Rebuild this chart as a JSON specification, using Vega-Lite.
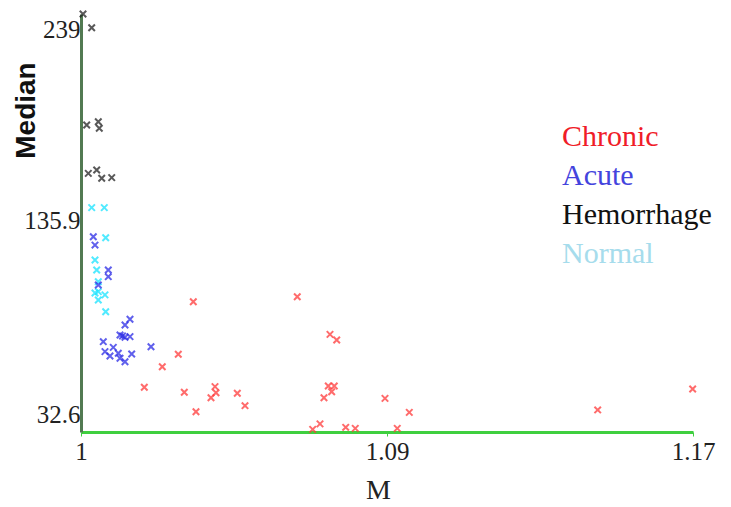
{
  "$schema": "https://vega.github.io/schema/vega-lite/v6.json",
  "width": 612,
  "height": 418,
  "autosize": {"type": "none"},
  "padding": {"left": 81, "top": 14, "right": 38, "bottom": 75},
  "background": "white",
  "config": {"view": {"stroke": null}},
  "data": {"values": [
    {"M": 1.00057, "Median": 239.0, "Group": "Hemorrhage"},
    {"M": 1.00304, "Median": 232.2, "Group": "Hemorrhage"},
    {"M": 1.00162, "Median": 184.2, "Group": "Hemorrhage"},
    {"M": 1.00492, "Median": 185.8, "Group": "Hemorrhage"},
    {"M": 1.0052, "Median": 182.6, "Group": "Hemorrhage"},
    {"M": 1.00208, "Median": 160.3, "Group": "Hemorrhage"},
    {"M": 1.00446, "Median": 162.0, "Group": "Hemorrhage"},
    {"M": 1.00589, "Median": 157.9, "Group": "Hemorrhage"},
    {"M": 1.00873, "Median": 158.2, "Group": "Hemorrhage"},
    {"M": 1.00304, "Median": 143.4, "Group": "Normal"},
    {"M": 1.00662, "Median": 143.4, "Group": "Normal"},
    {"M": 1.00702, "Median": 128.5, "Group": "Normal"},
    {"M": 1.00398, "Median": 117.5, "Group": "Normal"},
    {"M": 1.00446, "Median": 112.6, "Group": "Normal"},
    {"M": 1.00492, "Median": 106.8, "Group": "Normal"},
    {"M": 1.00492, "Median": 101.9, "Group": "Normal"},
    {"M": 1.00398, "Median": 101.2, "Group": "Normal"},
    {"M": 1.00682, "Median": 100.3, "Group": "Normal"},
    {"M": 1.00492, "Median": 97.8, "Group": "Normal"},
    {"M": 1.00702, "Median": 92.0, "Group": "Normal"},
    {"M": 1.0035, "Median": 129.0, "Group": "Acute"},
    {"M": 1.00398, "Median": 124.9, "Group": "Acute"},
    {"M": 1.00776, "Median": 112.6, "Group": "Acute"},
    {"M": 1.00776, "Median": 109.3, "Group": "Acute"},
    {"M": 1.00492, "Median": 105.2, "Group": "Acute"},
    {"M": 1.01393, "Median": 88.3, "Group": "Acute"},
    {"M": 1.01251, "Median": 85.4, "Group": "Acute"},
    {"M": 1.01109, "Median": 80.5, "Group": "Acute"},
    {"M": 1.01251, "Median": 79.4, "Group": "Acute"},
    {"M": 1.01393, "Median": 79.7, "Group": "Acute"},
    {"M": 1.0118, "Median": 80.0, "Group": "Acute"},
    {"M": 1.00634, "Median": 77.2, "Group": "Acute"},
    {"M": 1.00918, "Median": 74.4, "Group": "Acute"},
    {"M": 1.00682, "Median": 72.3, "Group": "Acute"},
    {"M": 1.00824, "Median": 70.1, "Group": "Acute"},
    {"M": 1.0106, "Median": 71.5, "Group": "Acute"},
    {"M": 1.01109, "Median": 69.0, "Group": "Acute"},
    {"M": 1.01441, "Median": 71.1, "Group": "Acute"},
    {"M": 1.01251, "Median": 67.3, "Group": "Acute"},
    {"M": 1.0199, "Median": 74.7, "Group": "Acute"},
    {"M": 1.03193, "Median": 96.9, "Group": "Chronic"},
    {"M": 1.02766, "Median": 71.0, "Group": "Chronic"},
    {"M": 1.02311, "Median": 64.8, "Group": "Chronic"},
    {"M": 1.018, "Median": 54.7, "Group": "Chronic"},
    {"M": 1.02937, "Median": 52.2, "Group": "Chronic"},
    {"M": 1.0381, "Median": 55.0, "Group": "Chronic"},
    {"M": 1.03838, "Median": 52.0, "Group": "Chronic"},
    {"M": 1.03696, "Median": 49.5, "Group": "Chronic"},
    {"M": 1.04444, "Median": 51.7, "Group": "Chronic"},
    {"M": 1.04663, "Median": 45.6, "Group": "Chronic"},
    {"M": 1.03269, "Median": 42.6, "Group": "Chronic"},
    {"M": 1.06149, "Median": 99.4, "Group": "Chronic"},
    {"M": 1.07079, "Median": 80.8, "Group": "Chronic"},
    {"M": 1.0727, "Median": 78.0, "Group": "Chronic"},
    {"M": 1.07031, "Median": 55.3, "Group": "Chronic"},
    {"M": 1.07201, "Median": 55.3, "Group": "Chronic"},
    {"M": 1.07127, "Median": 52.5, "Group": "Chronic"},
    {"M": 1.06908, "Median": 49.5, "Group": "Chronic"},
    {"M": 1.08643, "Median": 49.2, "Group": "Chronic"},
    {"M": 1.09334, "Median": 42.3, "Group": "Chronic"},
    {"M": 1.06795, "Median": 36.6, "Group": "Chronic"},
    {"M": 1.06587, "Median": 33.9, "Group": "Chronic"},
    {"M": 1.07526, "Median": 34.9, "Group": "Chronic"},
    {"M": 1.07798, "Median": 34.4, "Group": "Chronic"},
    {"M": 1.08992, "Median": 34.4, "Group": "Chronic"},
    {"M": 1.1469, "Median": 43.5, "Group": "Chronic"},
    {"M": 1.1739, "Median": 53.8, "Group": "Chronic"}
  ]},
  "mark": {
    "type": "point",
    "shape": "M-1,-1L1,1M1,-1L-1,1",
    "filled": false,
    "size": 42,
    "strokeWidth": 2,
    "opacity": 0.75,
    "clip": false
  },
  "encoding": {
    "x": {
      "field": "M", "type": "quantitative",
      "scale": {"domain": [1, 1.174], "nice": false, "zero": false},
      "axis": {
        "title": "M",
        "values": [1, 1.087, 1.174],
        "labelExpr": "datum.value == 1 ? '1' : format(datum.value, '.2f')",
        "grid": false,
        "domainColor": "#3fcf3f",
        "domainWidth": 3,
        "tickColor": "#3fcf3f",
        "tickSize": 4,
        "labelFont": "Liberation Serif",
        "labelFontSize": 25,
        "labelColor": "#222222",
        "labelPadding": 3,
        "labelFlush": false,
        "titleFont": "Liberation Serif",
        "titleFontSize": 28,
        "titleFontWeight": "normal",
        "titleColor": "#222222",
        "titleX": 297,
        "titleY": 58,
        "titleBaseline": "middle"
      }
    },
    "y": {
      "field": "Median", "type": "quantitative",
      "scale": {"domain": [32.6, 239], "nice": false, "zero": false},
      "axis": {
        "title": "Median",
        "values": [32.6, 135.8, 239],
        "labelExpr": "datum.value == 32.6 ? '32.6' : datum.value == 239 ? '239' : '135.9'",
        "grid": false,
        "domainColor": "#527a52",
        "domainWidth": 3,
        "tickColor": "#3fcf3f",
        "tickSize": 0,
        "labelFont": "Liberation Serif",
        "labelFontSize": 25,
        "labelColor": "#222222",
        "labelPadding": 1,
        "labelFlush": false,
        "labelBaseline": {"condition": {"test": "datum.value > 200", "value": "top"}, "value": "middle"},
        "labelOffset": {"condition": [{"test": "datum.value < 40", "value": -18}, {"test": "datum.value > 200", "value": 3}], "value": -3},
        "titleFont": "Liberation Sans",
        "titleFontSize": 28,
        "titleFontWeight": "bold",
        "titleColor": "#111111",
        "titleAngle": -90,
        "titleX": -55,
        "titleY": 96,
        "titleAlign": "center",
        "titleBaseline": "middle"
      }
    },
    "color": {
      "field": "Group", "type": "nominal",
      "scale": {
        "domain": ["Chronic", "Acute", "Hemorrhage", "Normal"],
        "range": ["#ff3a3a", "#2b2be6", "#222222", "#18e4ff"]
      },
      "legend": {
        "title": null,
        "orient": "none",
        "legendX": 451,
        "legendY": 108,
        "symbolSize": 0,
        "symbolStrokeWidth": 0,
        "symbolOpacity": 0,
        "labelOffset": 0,
        "labelFont": "Liberation Serif",
        "labelFontSize": 30,
        "labelLimit": 300,
        "rowPadding": 9,
        "labelColor": {"expr": "datum.value === 'Chronic' ? '#f01c28' : datum.value === 'Acute' ? '#4444dd' : datum.value === 'Hemorrhage' ? '#111111' : '#a6dcec'"}
      }
    }
  }
}
